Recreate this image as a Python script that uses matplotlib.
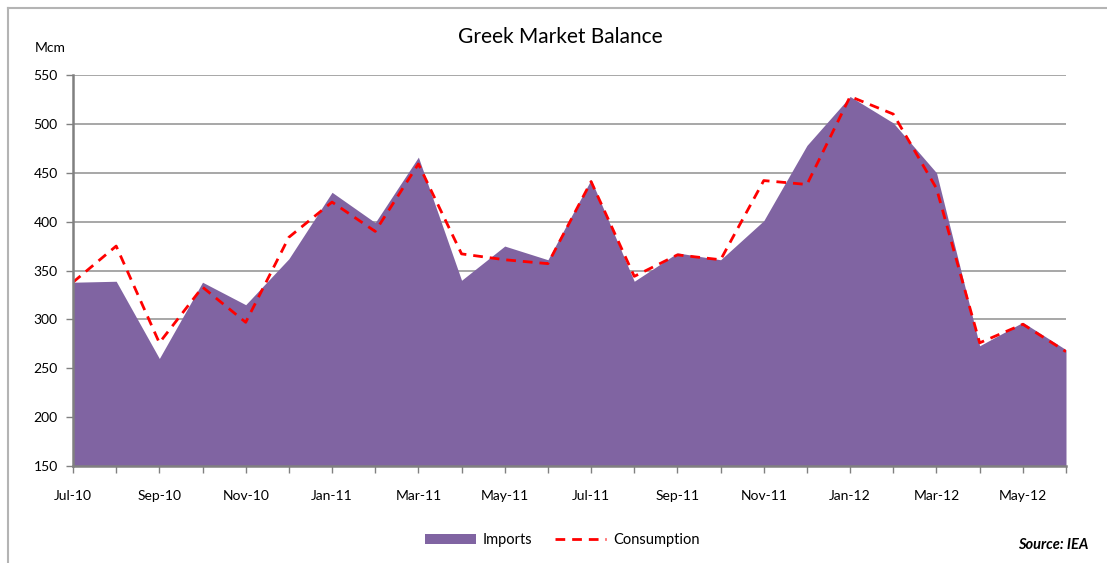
import matplotlib.pyplot as plt
from matplotlib.lines import Line2D
import numpy as np

# monthly values, Jul-10 .. Jun-12 (Mcm)
months = ['Jul-10', 'Aug-10', 'Sep-10', 'Oct-10', 'Nov-10', 'Dec-10',
          'Jan-11', 'Feb-11', 'Mar-11', 'Apr-11', 'May-11', 'Jun-11',
          'Jul-11', 'Aug-11', 'Sep-11', 'Oct-11', 'Nov-11', 'Dec-11',
          'Jan-12', 'Feb-12', 'Mar-12', 'Apr-12', 'May-12', 'Jun-12']
imports = [338, 339, 260, 338, 315, 362, 430, 399, 466, 340, 375, 361,
           443, 339, 368, 361, 401, 478, 528, 501, 450, 273, 297, 269]
consumption = [338, 375, 276, 333, 297, 384, 420, 390, 459, 367, 361, 357,
               441, 344, 366, 361, 442, 438, 528, 510, 434, 276, 295, 267]
y_ticks = [150, 200, 250, 300, 350, 400, 450, 500, 550]

plt.rcParams['font.family'] = ['Lato', 'DejaVu Sans']

W, H = 1107, 563
fig = plt.figure(figsize=(W / 100, H / 100), dpi=100)
ax = fig.add_axes([73 / W, 1 - 466 / H, (1066 - 73) / W, (466 - 75) / H])

x = np.arange(len(months))
ax.fill_between(x, 150, imports, color='#8064A2', linewidth=0, label='Imports', zorder=2)
ax.plot(x, consumption, color='#FF0000', linestyle=(0, (3.5, 2.5)), linewidth=2,
        label='Consumption', zorder=3)

ax.set_xlim(0, len(months) - 1)
ax.set_ylim(150, 550)
ax.set_yticks(y_ticks)
ax.set_xticks(x)
ax.set_xticklabels([m if i % 2 == 0 else '' for i, m in enumerate(months)])
ax.tick_params(axis='both', direction='out', length=5, width=1, color='#808080',
               labelsize=10, labelcolor='black')
ax.tick_params(axis='x', pad=12)
ax.tick_params(axis='y', pad=6)

ax.grid(axis='y', color='#a0a0a0', linewidth=1.3, zorder=1)
ax.set_axisbelow(True)
for s in ['top', 'right']:
    ax.spines[s].set_visible(False)
for s in ['left', 'bottom']:
    ax.spines[s].set_color('#808080')
    ax.spines[s].set_linewidth(1.8)
    ax.spines[s].set_zorder(4)

fig.text(560 / W, 1 - 37 / H, 'Greek Market Balance', ha='center', va='center', fontsize=15)
fig.text(35 / W, 1 - 48 / H, 'Mcm', ha='left', va='center', fontsize=10)
fig.text(1088 / W, 1 - 545 / H, 'Source: IEA', ha='right', va='center', fontsize=10.5,
         fontweight='bold', fontstyle='italic')

fig.legend(loc='center', bbox_to_anchor=(562 / W, 1 - 540 / H), ncol=2, frameon=False,
           fontsize=10.5, handlelength=3.5, columnspacing=1.5, handletextpad=0.5)

# chart border (left and top visible)
bc = '#b4b4b4'
fig.add_artist(Line2D([8 / W, 8 / W], [0, 1 - 8 / H], color=bc, linewidth=1.5))
fig.add_artist(Line2D([8 / W, 1], [1 - 8 / H, 1 - 8 / H], color=bc, linewidth=1.5))

fig.savefig('out.png', dpi=100)
